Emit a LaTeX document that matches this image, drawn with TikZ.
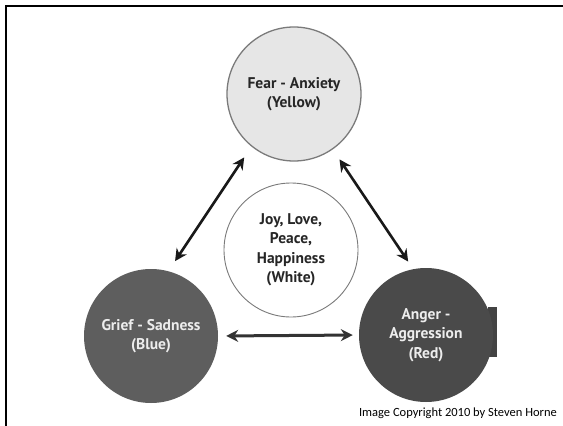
\documentclass[tikz,border=0pt]{standalone}
\usepackage{fontspec}
\setmainfont{PT Sans}
\newfontfamily\notefont{Carlito}
\usetikzlibrary{arrows.meta}
\definecolor{fearfill}{HTML}{E6E6E6}
\definecolor{rimgrey}{HTML}{7A7A7A}
\definecolor{griefgrey}{HTML}{5E5E5E}
\definecolor{angergrey}{HTML}{4A4A4A}
\definecolor{labelwhite}{HTML}{EDEDED}
\tikzset{
  emotion/.style={circle, minimum size=134pt, inner sep=0pt, align=center,
    font=\bfseries\fontsize{15.5}{19.5}\selectfont},
  lightcircle/.style={emotion, draw=rimgrey, line width=1.3pt, fill=fearfill, text=black!85},
  whitecircle/.style={emotion, draw=rimgrey, line width=0.9pt, fill=white, text=black!85},
  darkcircle/.style={emotion, fill=#1, text=labelwhite},
  link/.style={{Stealth[length=12pt,width=12pt]}-{Stealth[length=12pt,width=12pt]},
    line width=2.6pt, black!90},
  frameline/.style={line width=2.6pt, black},
}
\begin{document}
\begin{tikzpicture}[x=1pt, y=-1pt]
  \useasboundingbox (0,0) rectangle (563,426);
  % frame edges (top and left)
  \coordinate (frameTL) at (6,6);
  \coordinate (frameTR) at (563,6);
  \coordinate (frameBL) at (6,426);
  \draw[frameline] (frameTR) -- (frameTL) -- (frameBL);

  % emotion circles
  \node[lightcircle] (fear) at (294,94) {Fear - Anxiety\\(Yellow)};
  \node[whitecircle] (joy) at (291,250) {Joy, Love,\\Peace,\\Happiness\\(White)};
  \node[darkcircle=griefgrey] (grief) at (151,336) {Grief - Sadness\\(Blue)};
  \fill[angergrey!90!black] (488,307) rectangle (497,357);
  \node[darkcircle=angergrey] (anger) at (426,335) {Anger -\\Aggression\\(Red)};

  % two-way links between the outer circles
  \draw[link, shorten <=13pt, shorten >=12pt] (fear.231) -- (grief.75);
  \draw[link, shorten <=12pt, shorten >=9pt] (fear.305) -- (anger.101);
  \draw[link, black!80, line width=3pt, shorten <=8pt, shorten >=6pt] (grief.east) -- (anger.west);

  % credit line
  \node[font=\notefont\fontsize{12.5}{14}\selectfont, anchor=east, inner sep=0pt] (credit) at (557,413)
    {Image Copyright 2010 by Steven Horne};
\end{tikzpicture}
\end{document}
